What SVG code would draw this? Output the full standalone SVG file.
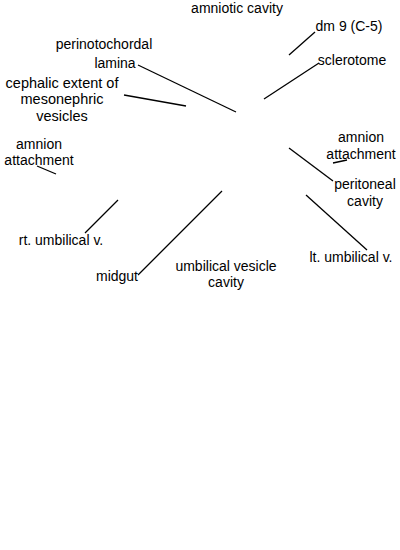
<svg xmlns="http://www.w3.org/2000/svg" width="400" height="550" viewBox="0 0 400 550">
<style>
text{font-family:"Liberation Sans",Arial,sans-serif;font-size:14px;fill:#000;text-anchor:middle}
.big text{font-size:14.5px}
.c line{stroke:#000;stroke-width:1.3;fill:none}
</style>
<rect width="400" height="550" fill="#fff"/>
<g class="c" id="connectors">
<line x1="289" y1="55" x2="315" y2="32"/>
<line x1="264" y1="99" x2="319" y2="63"/>
<line x1="138" y1="65" x2="236" y2="112"/>
<line x1="124" y1="95" x2="186" y2="106"/>
<line x1="37" y1="166" x2="56" y2="174"/>
<line x1="85" y1="233" x2="118" y2="200"/>
<line x1="138" y1="275" x2="222" y2="191"/>
<line x1="333" y1="163" x2="347" y2="160"/>
<line x1="289" y1="148" x2="333" y2="181"/>
<line x1="306" y1="195" x2="367" y2="250"/>
</g>
<g id="amniotic-cavity"><text x="237" y="13">amniotic cavity</text></g>
<g id="dm9"><text x="349" y="31">dm 9 (C-5)</text></g>
<g id="sclerotome"><text x="352" y="65">sclerotome</text></g>
<g id="perinotochordal"><text x="104" y="49">perinotochordal</text><text x="115" y="68">lamina</text></g>
<g id="cephalic" class="big"><text x="62" y="87.5">cephalic extent of</text><text x="62" y="104">mesonephric</text><text x="62" y="120.5">vesicles</text></g>
<g id="amnion-left"><text x="39" y="149">amnion</text><text x="39" y="165">attachment</text></g>
<g id="amnion-right"><text x="361" y="142">amnion</text><text x="361" y="159">attachment</text></g>
<g id="peritoneal"><text x="365" y="189">peritoneal</text><text x="365" y="206">cavity</text></g>
<g id="rt-umbilical"><text x="61" y="245">rt. umbilical v.</text></g>
<g id="lt-umbilical"><text x="351" y="262">lt. umbilical v.</text></g>
<g id="midgut"><text x="117" y="281">midgut</text></g>
<g id="umbilical-vesicle"><text x="226" y="270.5">umbilical vesicle</text><text x="226" y="287">cavity</text></g>
</svg>
